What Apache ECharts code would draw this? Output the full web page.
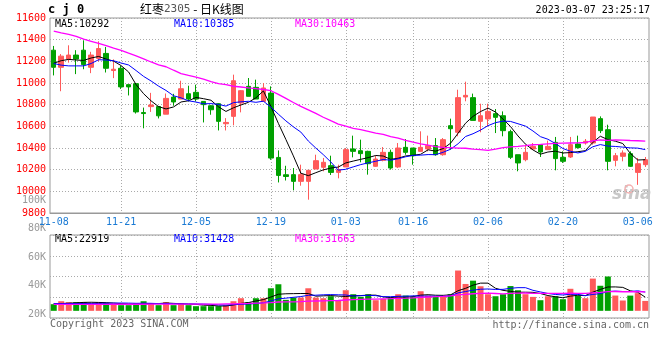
<!DOCTYPE html>
<html>
<head>
<meta charset="utf-8">
<script src="https://cdn.jsdelivr.net/npm/echarts@6/dist/echarts.min.js"></script>
<style>
html,body{margin:0;padding:0;background:#fff;}
#c{width:660px;height:360px;}
</style>
</head>
<body>
<div id="c"></div>
<script>
// ---- data ----
const dates = ['11-08','11-09','11-10','11-11','11-14','11-15','11-16','11-17','11-18','11-21','11-22','11-23','11-24','11-25','11-28','11-29','11-30','12-01','12-02','12-05','12-06','12-07','12-08','12-09','12-12','12-13','12-14','12-15','12-16','12-19','12-20','12-21','12-22','12-23','12-26','12-27','12-28','12-29','12-30','01-03','01-04','01-05','01-06','01-09','01-10','01-11','01-12','01-13','01-16','01-17','01-18','01-19','01-20','01-30','01-31','02-01','02-02','02-03','02-06','02-07','02-08','02-09','02-10','02-13','02-14','02-15','02-16','02-17','02-20','02-21','02-22','02-23','02-24','02-27','02-28','03-01','03-02','03-03','03-06','03-07'];

const opens  = [11303,11145,11221,11258,11303,11145,11227,11273,11115,11136,10985,10994,10727,10782,10782,10712,10870,10852,10901,10914,10830,10790,10809,10624,10692,10815,10969,10960,10830,10907,10313,10153,10154,10092,10092,10206,10222,10237,10175,10225,10391,10375,10369,10231,10286,10360,10225,10406,10400,10369,10391,10422,10338,10606,10545,10871,10865,10646,10668,10717,10698,10551,10338,10292,10391,10431,10385,10452,10314,10317,10437,10446,10446,10671,10569,10286,10323,10348,10175,10246];
const closes = [11145,11248,11258,11221,11170,11258,11318,11136,11127,10964,10964,10733,10718,10797,10697,10858,10825,10947,10852,10852,10800,10753,10646,10636,11021,10929,10877,10852,10954,10307,10147,10137,10092,10154,10194,10283,10268,10175,10200,10385,10369,10348,10255,10298,10360,10215,10400,10360,10329,10406,10422,10338,10477,10578,10865,10886,10655,10698,10738,10683,10560,10314,10262,10360,10415,10363,10415,10302,10277,10431,10404,10462,10686,10560,10277,10329,10354,10231,10255,10292];
const lows   = [11070,10924,11188,11082,11127,11091,11200,11097,11045,10945,10885,10718,10582,10733,10673,10712,10790,10852,10830,10830,10636,10707,10562,10562,10609,10729,10877,10852,10830,10291,10082,10100,10009,10052,9923,10206,10185,10151,10120,10225,10314,10268,10154,10225,10277,10200,10215,10338,10246,10369,10369,10329,10329,10385,10508,10831,10655,10545,10600,10538,10508,10298,10185,10277,10391,10317,10385,10194,10262,10308,10394,10431,10431,10538,10194,10231,10277,10225,10060,10225];
const highs  = [11342,11267,11348,11303,11394,11288,11385,11333,11218,11158,10985,11000,10773,10909,10788,10903,10900,11021,10975,10984,10830,10795,10815,10676,11077,10935,11046,11031,11000,10969,10378,10236,10215,10246,10194,10338,10308,10329,10246,10400,10514,10477,10375,10329,10409,10385,10446,10483,10400,10554,10514,10492,10492,10671,10938,11012,10902,10809,10809,10760,10738,10569,10338,10431,10446,10431,10468,10502,10369,10502,10514,10483,10686,10692,10615,10354,10378,10369,10308,10317];
const volumes = [11100,16100,14500,14500,14500,12200,14500,12800,11100,9500,9500,12800,16100,12800,9500,14500,9500,12800,9500,7800,7800,7800,7800,9500,16100,21100,14500,21100,21100,37800,44500,18400,22200,22200,37800,22200,21100,24500,17800,34500,27800,23400,27800,17800,20000,22200,27800,25600,23400,32800,25580,23350,24460,27800,67500,45000,50500,41140,27800,24460,27800,41500,34470,27800,23350,17790,24460,24460,19460,36930,25000,21185,54000,42000,57500,25600,17300,25500,29600,16595];

// moving-average values before enough history is on screen
const ma5Head  = [11182,11206,11218,11212];
const ma10Head = [11180,11165,11158,11158,11158,11180,11215,11212,11205];
const ma30Head = [11479,11462,11449,11430,11405,11385,11365,11345,11322,11301,11275,11250,11222,11194,11168,11150,11118,11087,11070,11055,11035,11012,10994,10985,10970,10963,10955,10948,10940];
const volMa5Head  = [12200,12200,12800,13400];
const volMa10Head = [12200,12200,12200,12200,12300,12400,12500,12700,12900];
const volMa30Head = [10800,10800,10850,10850,10900,10900,10950,10950,11000,11000,11000,11050,11050,11100,11100,11100,11150,11150,11200,11200,11250,11300,11400,11600,11800,12100,12400,12800,13200];

// tick labels
const xLabelDates = ['11-08','11-21','12-05','12-19','01-03','01-16','02-06','02-20','03-06'];
const gridDates   = ['11-21','12-05','12-19','01-03','01-16','02-06','02-20'];
const volLabelTicks = [20000,40000,60000,80000,100000];

// ---- helpers ----
function movingAverage(vals, n, head){
  const out = [];
  for (let i = 0; i < vals.length; i++){
    if (i < n - 1) { out.push(head[i]); continue; }
    let s = 0;
    for (let k = i - n + 1; k <= i; k++) s += vals[k];
    out.push(+(s / n).toFixed(2));
  }
  return out;
}
const ma5 = movingAverage(closes, 5, ma5Head);
const ma10 = movingAverage(closes, 10, ma10Head);
const ma30 = movingAverage(closes, 30, ma30Head);
const vma5 = movingAverage(volumes, 5, volMa5Head);
const vma10 = movingAverage(volumes, 10, volMa10Head);
const vma30 = movingAverage(volumes, 30, volMa30Head);

const UP = '#ff5a5a', DOWN = '#00a000';
const MONO = '"DejaVu Sans Mono", "Liberation Mono", monospace';
const kData = opens.map((o, i) => [o, closes[i], lows[i], highs[i]]);
const volData = volumes.map((v, i) => ({value: v, itemStyle: {color: closes[i] >= opens[i] ? UP : DOWN}}));
const last = a => Math.round(a[a.length - 1]);

const gridLine = {show: true, lineStyle: {color: '#aaaaaa', type: [1, 2], width: 1}};
const vSplit = {show: true, alignWithLabel: true, interval: (i, v) => gridDates.includes(v), lineStyle: {color: '#aaaaaa', type: [1, 2], width: 1}};

const chart = echarts.init(document.getElementById('c'), null, {renderer: 'canvas'});
chart.setOption({
  animation: false,
  backgroundColor: '#fff',
  grid: [
    {left: 50, top: 18, width: 599, height: 195, show: true, borderColor: '#999', borderWidth: 1},
    {left: 50, top: 235, width: 599, height: 83, show: true, borderColor: '#999', borderWidth: 1},
    {left: 50, top: 200, width: 599, height: 114, show: false}
  ],
  xAxis: [
    {type: 'category', gridIndex: 0, data: dates, boundaryGap: true,
     axisLine: {show: true, lineStyle: {color: '#999'}}, axisTick: {show: false, alignWithLabel: true},
     axisLabel: {interval: (i, v) => xLabelDates.includes(v), color: '#1a7ad4', fontFamily: MONO, fontSize: 10, margin: 4},
     splitLine: vSplit},
    {type: 'category', gridIndex: 1, data: dates, boundaryGap: true,
     axisLine: {show: false}, axisTick: {show: false, alignWithLabel: true}, axisLabel: {show: false},
     splitLine: vSplit},
    {type: 'value', gridIndex: 2, show: false, min: 0, max: 1}
  ],
  yAxis: [
    {type: 'value', gridIndex: 0, min: 9800, max: 11600, interval: 200,
     axisLine: {show: false}, axisTick: {show: false},
     axisLabel: {color: '#ff0000', fontFamily: MONO, fontSize: 10, margin: 4, formatter: v => String(v)},
     splitLine: gridLine},
    {type: 'value', gridIndex: 1, min: -12000, max: 127000, interval: 34750,
     axisLine: {show: false}, axisTick: {show: false}, axisLabel: {show: false},
     splitLine: gridLine},
    {type: 'value', gridIndex: 2, min: volLabelTicks[0], max: volLabelTicks[volLabelTicks.length - 1], interval: 20000,
     axisLine: {show: false}, axisTick: {show: false}, splitLine: {show: false},
     axisLabel: {color: '#999999', fontFamily: MONO, fontSize: 10, margin: 4, formatter: v => (v / 1000) + 'K'}}
  ],
  series: [
    {type: 'candlestick', xAxisIndex: 0, yAxisIndex: 0, data: kData, barWidth: 5,
     itemStyle: {color: UP, color0: DOWN, borderColor: UP, borderColor0: DOWN, borderWidth: 1}},
    {type: 'line', xAxisIndex: 0, yAxisIndex: 0, data: ma5, symbol: 'none', lineStyle: {color: '#000', width: 1}},
    {type: 'line', xAxisIndex: 0, yAxisIndex: 0, data: ma10, symbol: 'none', lineStyle: {color: '#0000ff', width: 1}},
    {type: 'line', xAxisIndex: 0, yAxisIndex: 0, data: ma30, symbol: 'none', lineStyle: {color: '#ff00ff', width: 1.3}},
    {type: 'bar', xAxisIndex: 1, yAxisIndex: 1, data: volData, barWidth: 6},
    {type: 'line', xAxisIndex: 1, yAxisIndex: 1, data: vma5, symbol: 'none', lineStyle: {color: '#000', width: 1}},
    {type: 'line', xAxisIndex: 1, yAxisIndex: 1, data: vma10, symbol: 'none', lineStyle: {color: '#0000ff', width: 1}},
    {type: 'line', xAxisIndex: 1, yAxisIndex: 1, data: vma30, symbol: 'none', lineStyle: {color: '#ff00ff', width: 1.3}}
  ],
  graphic: [
    {type: 'text', left: 48, top: 4, style: {text: 'c j 0', font: 'bold 12px ' + MONO, fill: '#000'}},
    {type: 'text', left: 140, top: 3, style: {text: '{a|红枣}{b|2305}{a| - 日K线图}', rich: {
      a: {fontFamily: '"Noto Sans CJK SC", sans-serif', fontSize: 12, fill: '#000'},
      b: {fontFamily: MONO, fontSize: 11, fill: '#555'}}}},
    {type: 'text', right: 10, top: 5, style: {text: '2023-03-07 23:25:17', font: '10px ' + MONO, fill: '#000'}},
    {type: 'text', left: 55, top: 19, style: {text: 'MA5:' + last(ma5), font: '10px ' + MONO, fill: '#000'}},
    {type: 'text', left: 174, top: 19, style: {text: 'MA10:' + last(ma10), font: '10px ' + MONO, fill: '#0000ff'}},
    {type: 'text', left: 295, top: 19, style: {text: 'MA30:' + last(ma30), font: '10px ' + MONO, fill: '#ff00ff'}},
    {type: 'text', left: 55, top: 234, style: {text: 'MA5:' + last(vma5), font: '10px ' + MONO, fill: '#000'}},
    {type: 'text', left: 174, top: 234, style: {text: 'MA10:' + last(vma10), font: '10px ' + MONO, fill: '#0000ff'}},
    {type: 'text', left: 295, top: 234, style: {text: 'MA30:' + last(vma30), font: '10px ' + MONO, fill: '#ff00ff'}},
    {type: 'text', left: 50, top: 319, style: {text: 'Copyright 2023 SINA.COM', font: '10px ' + MONO, fill: '#666'}},
    {type: 'text', right: 11, top: 320, style: {text: 'http://finance.sina.com.cn', font: '10px ' + MONO, fill: '#666'}},
    {type: 'text', left: 612, top: 186, style: {text: 'sina', font: 'italic bold 17px "DejaVu Sans", sans-serif', fill: '#c8c8c8'}},
    {type: 'circle', shape: {cx: 629, cy: 189, r: 4}, style: {fill: 'none', stroke: '#f4b0b0', lineWidth: 1.5}}
  ]
});
</script>
</body>
</html>
